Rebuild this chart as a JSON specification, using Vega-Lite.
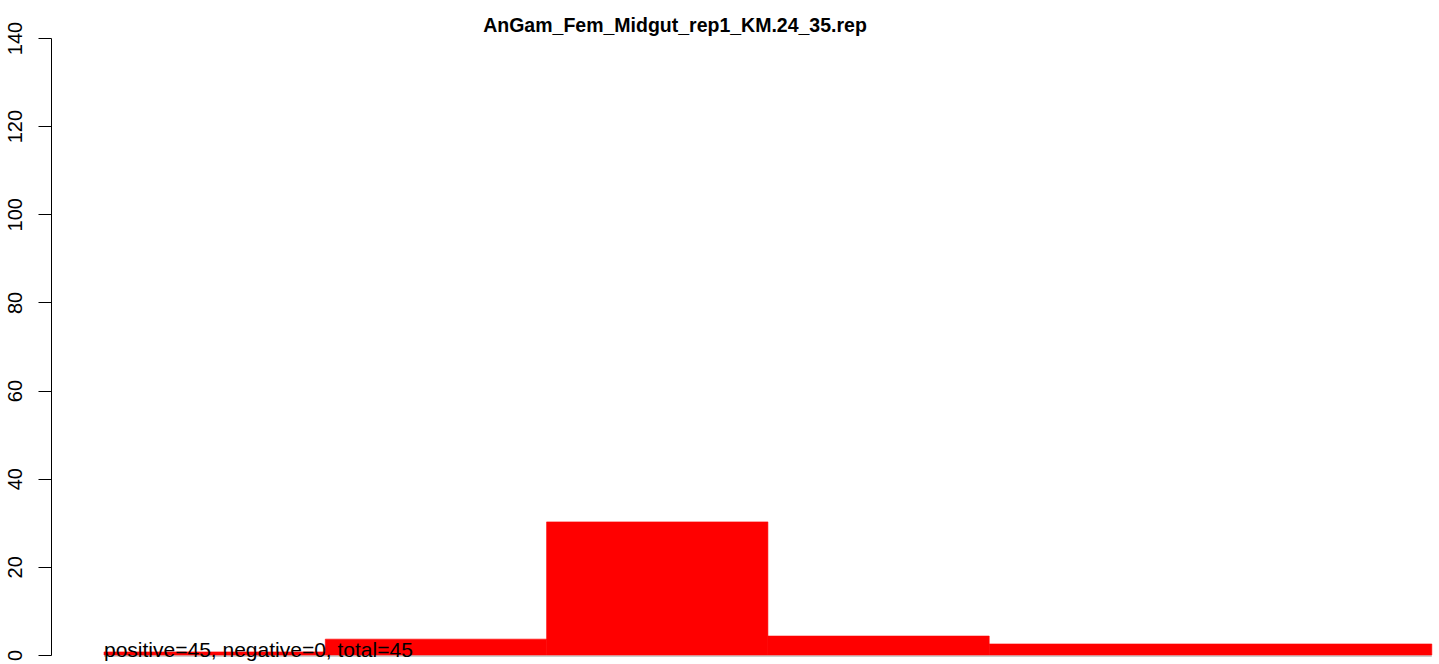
{
  "$schema": "https://vega.github.io/schema/vega-lite/v6.json",
  "autosize": {"type": "none"},
  "padding": {"left": 51, "top": 38, "right": 0, "bottom": 9},
  "width": 1388,
  "height": 617,
  "background": "white",
  "config": {
    "view": {"stroke": null},
    "font": "Liberation Sans"
  },
  "title": {
    "text": "AnGam_Fem_Midgut_rep1_KM.24_35.rep",
    "font": "Liberation Sans",
    "fontSize": 19.5,
    "fontWeight": "bold",
    "color": "black",
    "anchor": "middle",
    "baseline": "alphabetic",
    "offset": 0,
    "dx": -70,
    "dy": 30
  },
  "layer": [
    {
      "data": {"values": [{"start": 0, "end": 6}]},
      "mark": {"type": "rule", "color": "#999999", "strokeWidth": 1, "yOffset": 1},
      "encoding": {
        "x": {"field": "start", "type": "quantitative", "scale": {"domain": [-0.2395, 6.0325], "nice": false, "zero": false}, "axis": null},
        "x2": {"field": "end"},
        "y": {"datum": 0, "type": "quantitative", "scale": {"domain": [0, 140], "nice": false}}
      }
    },
    {
      "data": {"values": [
        {"start": 0, "end": 1, "count": 0.7},
        {"start": 1, "end": 2, "count": 3.6},
        {"start": 2, "end": 3, "count": 30.2},
        {"start": 3, "end": 4, "count": 4.3},
        {"start": 4, "end": 6, "count": 2.5}
      ]},
      "mark": {"type": "rect", "color": "#FF0000", "stroke": "#FF0000", "strokeWidth": 0.6},
      "encoding": {
        "x": {"field": "start", "type": "quantitative", "scale": {"domain": [-0.2395, 6.0325], "nice": false, "zero": false}, "axis": null},
        "x2": {"field": "end"},
        "y": {"field": "count", "type": "quantitative", "scale": {"domain": [0, 140], "nice": false},
          "axis": {
            "title": null,
            "values": [0, 20, 40, 60, 80, 100, 120, 140],
            "grid": false,
            "domainColor": "black",
            "domainWidth": 1,
            "tickColor": "black",
            "tickWidth": 1,
            "tickSize": 13,
            "labelAngle": 270,
            "labelAlign": "center",
            "labelBaseline": "alphabetic",
            "labelPadding": 17,
            "labelFont": "Liberation Sans",
            "labelFontSize": 20,
            "labelColor": "black",
            "labelOverlap": false,
            "labelFlush": false
          }
        },
        "y2": {"datum": 0}
      }
    },
    {
      "data": {"values": [{"pos": 0, "label": "positive=45, negative=0, total=45"}]},
      "mark": {"type": "text", "align": "left", "baseline": "alphabetic", "dy": 2, "fontSize": 21, "font": "Liberation Sans", "color": "black"},
      "encoding": {
        "x": {"field": "pos", "type": "quantitative"},
        "y": {"datum": 0, "type": "quantitative"},
        "text": {"field": "label"}
      }
    }
  ]
}
